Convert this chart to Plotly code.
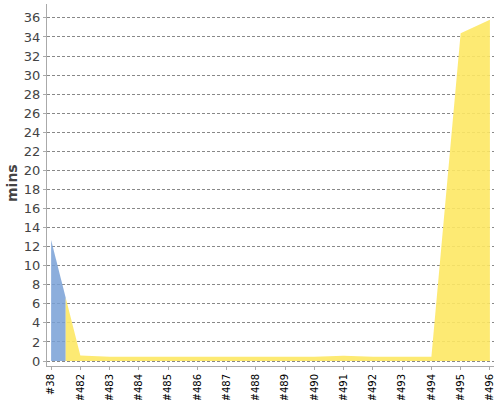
import plotly.graph_objects as go

builds = ["#38", "#482", "#483", "#484", "#485", "#486", "#487", "#488",
          "#489", "#490", "#491", "#492", "#493", "#494", "#495", "#496"]
stable_mins = [12.7, 0, 0, 0, 0, 0, 0, 0, 0, 0, 0, 0, 0, 0, 0, 0]
unstable_mins = [0, 0.58, 0.45, 0.45, 0.45, 0.45, 0.45, 0.45, 0.45, 0.45,
                 0.55, 0.45, 0.45, 0.45, 34.4, 35.8]
y_ticks = list(range(0, 37, 2))

series = [
    ("Stable", stable_mins, "rgba(120,160,214,0.85)"),
    ("Unstable", unstable_mins, "rgba(253,232,100,0.9)"),
]

n = len(builds)
total = [s + u for s, u in zip(stable_mins, unstable_mins)]

fig = go.Figure()
for name, vals, color in series:
    i = 0
    while i < n:
        if vals[i] > 0:
            j = i
            while j + 1 < n and vals[j + 1] > 0:
                j += 1
            xs, ys = [], []
            if i > 0:
                xs.append(i - 0.5)
                ys.append((total[i - 1] + total[i]) / 2)
            for k in range(i, j + 1):
                xs.append(k)
                ys.append(total[k])
            if j < n - 1:
                xs.append(j + 0.5)
                ys.append((total[j] + total[j + 1]) / 2)
            fig.add_trace(go.Scatter(x=xs, y=ys, mode="lines", fill="tozeroy",
                                     fillcolor=color, line=dict(width=0),
                                     name=name, showlegend=False,
                                     hoverinfo="skip"))
            i = j + 1
        else:
            i += 1

fig.update_layout(
    width=500, height=400,
    margin=dict(l=47, r=6, t=4, b=34, autoexpand=False),
    paper_bgcolor="white", plot_bgcolor="white",
    font=dict(family="DejaVu Sans", color="#444"),
    showlegend=False,
)
fig.update_xaxes(
    automargin=False,
    range=[-0.14, n - 1 + 0.14],
    tickvals=list(range(n)), ticktext=builds, tickangle=-90,
    tickfont=dict(size=10, color="black"),
    showline=True, linecolor="#aaa", linewidth=1,
    ticks="outside", ticklen=3, tickcolor="#aaa",
    showgrid=False, zeroline=False,
)
fig.update_yaxes(
    automargin=False,
    range=[-0.52, 37.46],
    tickvals=y_ticks, tickfont=dict(size=13, color="#444"),
    showline=True, linecolor="#aaa", linewidth=1,
    ticks="outside", ticklen=3, tickcolor="#aaa",
    showgrid=True, gridcolor="#888", griddash="3px,2px", gridwidth=1,
    zeroline=False, layer="below traces",
)
fig.add_annotation(text="<b>mins</b>", xref="paper", yref="paper",
                   x=(12 - 47) / 447, y=(366 - 183) / 362,
                   showarrow=False, textangle=-90,
                   font=dict(size=14, color="#444", family="DejaVu Sans"),
                   xanchor="center", yanchor="middle")

fig.write_html("out.html", config={"displayModeBar": False},
               post_script="document.body.style.margin='0';"
                           "document.body.style.overflow='hidden';")
